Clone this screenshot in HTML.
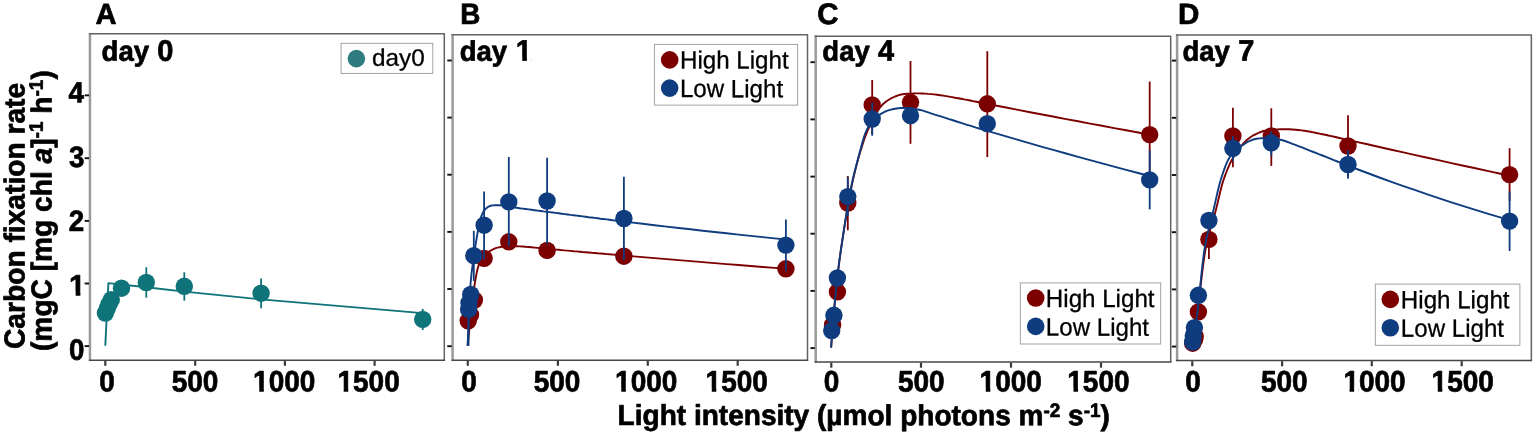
<!DOCTYPE html>
<html lang="en">
<head>
<meta charset="utf-8">
<title>Carbon fixation rate vs light intensity</title>
<style>
html,body{margin:0;padding:0;background:#fff;}
body{width:1535px;height:434px;overflow:hidden;font-family:"Liberation Sans",sans-serif;}
svg{display:block;}
</style>
</head>
<body>
<svg width="1535" height="434" viewBox="0 0 1535 434">
<rect width="1535" height="434" fill="#fff"/>
<g id="dataA">
<path d="M105.3,345.8 L108.4,283.1 L146.3,287.3 L184.3,291.6 L261.1,299.4 L422.7,313.1" fill="none" stroke="#0f7479" stroke-width="1.9" stroke-linejoin="round"/>
<line x1="146.3" y1="267.2" x2="146.3" y2="297.7" stroke="#0f7479" stroke-width="1.8"/>
<line x1="184.3" y1="272.3" x2="184.3" y2="300.7" stroke="#0f7479" stroke-width="1.8"/>
<line x1="261.1" y1="278.4" x2="261.1" y2="308.3" stroke="#0f7479" stroke-width="1.8"/>
<line x1="422.7" y1="308.8" x2="422.7" y2="330.0" stroke="#0f7479" stroke-width="1.8"/>
<circle cx="105.4" cy="313.1" r="8.7" fill="#0f7479"/>
<circle cx="107.2" cy="308.7" r="8.7" fill="#0f7479"/>
<circle cx="109.2" cy="303.9" r="8.7" fill="#0f7479"/>
<circle cx="111.3" cy="299.7" r="8.7" fill="#0f7479"/>
<circle cx="121.5" cy="288.2" r="8.7" fill="#0f7479"/>
<circle cx="146.3" cy="282.5" r="8.7" fill="#0f7479"/>
<circle cx="184.3" cy="286.3" r="8.7" fill="#0f7479"/>
<circle cx="261.1" cy="293.2" r="8.7" fill="#0f7479"/>
<circle cx="422.7" cy="319.4" r="8.7" fill="#0f7479"/>
</g>
<g id="dataB">
<path d="M467.6,345.7 L468.6,336.1 L469.6,326.8 L470.6,317.8 L471.6,309.1 L472.6,300.5 L473.6,292.1 L474.6,284.7 L475.6,278.7 L476.6,273.3 L477.6,268.7 L478.6,265.4 L479.6,262.9 L480.6,260.8 L481.6,259.0 L482.6,257.5 L483.6,256.3 L484.6,255.2 L485.6,254.2 L486.6,253.4 L487.6,252.6 L488.6,251.9 L489.6,251.2 L490.6,250.6 L491.6,250.1 L492.6,249.5 L493.6,249.0 L494.6,248.6 L495.6,248.2 L496.6,247.9 L497.6,247.6 L498.6,247.4 L499.6,247.2 L500.6,247.0 L501.6,246.8 L502.6,246.6 L503.6,246.4 L504.6,246.3 L505.6,246.2 L506.6,246.1 L507.6,246.0 L510.6,246.0 L513.6,246.1 L516.6,246.2 L519.6,246.4 L522.6,246.5 L525.6,246.8 L528.6,247.0 L531.6,247.3 L534.6,247.6 L537.6,247.9 L540.6,248.2 L543.6,248.5 L546.6,248.8 L549.6,249.0 L552.6,249.3 L555.6,249.6 L558.6,249.8 L561.6,250.1 L564.6,250.4 L567.6,250.6 L570.6,250.9 L573.6,251.2 L576.6,251.4 L579.6,251.7 L582.6,252.0 L585.6,252.2 L588.6,252.5 L591.6,252.8 L594.6,253.0 L597.6,253.3 L600.6,253.5 L603.6,253.8 L606.6,254.1 L609.6,254.3 L612.6,254.6 L615.6,254.8 L618.6,255.1 L630.6,256.1 L642.6,257.1 L654.6,258.1 L666.6,259.1 L678.6,260.1 L690.6,261.1 L702.6,262.1 L714.6,263.1 L726.6,264.1 L738.6,265.0 L750.6,266.0 L762.6,267.0 L774.6,267.9 L786.0,268.8" fill="none" stroke="#7c0000" stroke-width="1.9" stroke-linejoin="round"/>
<circle cx="468.2" cy="320.8" r="8.7" fill="#7c0000"/>
<circle cx="470.5" cy="315.0" r="8.7" fill="#7c0000"/>
<circle cx="474.4" cy="300.0" r="8.7" fill="#7c0000"/>
<circle cx="484.1" cy="258.4" r="8.7" fill="#7c0000"/>
<circle cx="508.8" cy="241.8" r="8.7" fill="#7c0000"/>
<circle cx="547.1" cy="250.4" r="8.7" fill="#7c0000"/>
<circle cx="623.9" cy="256.2" r="8.7" fill="#7c0000"/>
<circle cx="785.9" cy="268.8" r="8.7" fill="#7c0000"/>
<path d="M467.6,345.7 L468.6,320.0 L469.6,298.5 L470.6,283.0 L471.6,272.8 L472.6,265.1 L473.6,258.0 L474.6,251.0 L475.6,244.5 L476.6,238.5 L477.6,232.5 L478.6,226.6 L479.6,221.8 L480.6,218.4 L481.6,215.6 L482.6,213.2 L483.6,211.4 L484.6,210.0 L485.6,208.9 L486.6,208.0 L487.6,207.2 L488.6,206.7 L489.6,206.2 L490.6,205.8 L491.6,205.5 L492.6,205.4 L493.6,205.4 L494.6,205.3 L495.6,205.3 L496.6,205.3 L497.6,205.3 L498.6,205.3 L499.6,205.3 L500.6,205.3 L501.6,205.3 L502.6,205.4 L503.6,205.5 L504.6,205.6 L505.6,205.7 L506.6,205.9 L507.6,206.0 L510.6,206.6 L513.6,207.2 L516.6,207.7 L519.6,208.2 L522.6,208.6 L525.6,209.0 L528.6,209.4 L531.6,209.8 L534.6,210.2 L537.6,210.6 L540.6,211.0 L543.6,211.4 L546.6,211.7 L549.6,212.1 L552.6,212.5 L555.6,212.9 L558.6,213.3 L561.6,213.7 L564.6,214.1 L567.6,214.5 L570.6,214.9 L573.6,215.2 L576.6,215.6 L579.6,216.0 L582.6,216.4 L585.6,216.8 L588.6,217.2 L591.6,217.5 L594.6,217.9 L597.6,218.3 L600.6,218.7 L603.6,219.0 L606.6,219.4 L609.6,219.8 L612.6,220.2 L615.6,220.5 L618.6,220.9 L630.6,222.4 L642.6,223.8 L654.6,225.2 L666.6,226.6 L678.6,228.0 L690.6,229.3 L702.6,230.7 L714.6,232.0 L726.6,233.3 L738.6,234.6 L750.6,235.9 L762.6,237.1 L774.6,238.4 L786.0,239.5" fill="none" stroke="#0f3c7e" stroke-width="1.9" stroke-linejoin="round"/>
<line x1="468.6" y1="300.0" x2="468.6" y2="345.7" stroke="#0f3c7e" stroke-width="1.8"/>
<line x1="473.8" y1="230.8" x2="473.8" y2="281.0" stroke="#0f3c7e" stroke-width="1.8"/>
<line x1="484.1" y1="191.4" x2="484.1" y2="259.8" stroke="#0f3c7e" stroke-width="1.8"/>
<line x1="508.8" y1="157.0" x2="508.8" y2="246.2" stroke="#0f3c7e" stroke-width="1.8"/>
<line x1="547.1" y1="157.7" x2="547.1" y2="244.3" stroke="#0f3c7e" stroke-width="1.8"/>
<line x1="623.9" y1="176.8" x2="623.9" y2="260.0" stroke="#0f3c7e" stroke-width="1.8"/>
<line x1="785.9" y1="219.5" x2="785.9" y2="270.9" stroke="#0f3c7e" stroke-width="1.8"/>
<circle cx="468.6" cy="309.4" r="8.7" fill="#0f3c7e"/>
<circle cx="469.0" cy="303.0" r="8.7" fill="#0f3c7e"/>
<circle cx="470.7" cy="294.4" r="8.7" fill="#0f3c7e"/>
<circle cx="473.8" cy="255.7" r="8.7" fill="#0f3c7e"/>
<circle cx="484.1" cy="225.2" r="8.7" fill="#0f3c7e"/>
<circle cx="508.8" cy="201.9" r="8.7" fill="#0f3c7e"/>
<circle cx="547.1" cy="201.0" r="8.7" fill="#0f3c7e"/>
<circle cx="623.9" cy="218.5" r="8.7" fill="#0f3c7e"/>
<circle cx="785.9" cy="245.1" r="8.7" fill="#0f3c7e"/>
</g>
<g id="dataC">
<path d="M831.1,347.6 L832.1,334.5 L833.1,322.0 L834.1,310.2 L835.1,299.1 L836.1,288.8 L837.1,279.4 L838.1,270.8 L839.1,262.9 L840.1,255.5 L841.1,248.5 L842.1,241.9 L843.1,235.4 L844.1,228.9 L845.1,222.6 L846.1,216.4 L847.1,210.4 L848.1,204.6 L849.1,199.1 L850.1,193.7 L851.1,188.7 L852.1,183.9 L853.1,179.3 L854.1,175.0 L855.1,170.8 L856.1,166.8 L857.1,162.9 L858.1,159.3 L859.1,155.7 L860.1,152.3 L861.1,149.1 L862.1,145.9 L863.1,142.8 L864.1,139.8 L865.1,137.0 L866.1,134.4 L867.1,131.9 L868.1,129.5 L869.1,127.3 L870.1,125.1 L871.1,123.0 L874.1,117.0 L877.1,111.7 L880.1,107.3 L883.1,104.0 L886.1,101.5 L889.1,99.5 L892.1,97.8 L895.1,96.5 L898.1,95.4 L901.1,94.5 L904.1,94.0 L907.1,93.8 L910.1,93.6 L913.1,93.5 L916.1,93.4 L919.1,93.4 L922.1,93.5 L925.1,93.6 L928.1,93.9 L931.1,94.1 L934.1,94.4 L937.1,94.8 L940.1,95.2 L943.1,95.6 L946.1,96.1 L949.1,96.6 L952.1,97.1 L955.1,97.7 L958.1,98.2 L961.1,98.8 L964.1,99.4 L967.1,99.9 L970.1,100.5 L973.1,101.1 L976.1,101.7 L979.1,102.3 L982.1,102.9 L994.1,105.2 L1006.1,107.5 L1018.1,109.9 L1030.1,112.2 L1042.1,114.5 L1054.1,116.8 L1066.1,119.1 L1078.1,121.3 L1090.1,123.6 L1102.1,125.8 L1114.1,128.1 L1126.1,130.3 L1138.1,132.5 L1149.7,134.6" fill="none" stroke="#7c0000" stroke-width="1.9" stroke-linejoin="round"/>
<line x1="847.8" y1="176.0" x2="847.8" y2="230.3" stroke="#7c0000" stroke-width="1.8"/>
<line x1="872.2" y1="80.0" x2="872.2" y2="134.3" stroke="#7c0000" stroke-width="1.8"/>
<line x1="910.5" y1="61.0" x2="910.5" y2="143.8" stroke="#7c0000" stroke-width="1.8"/>
<line x1="987.3" y1="51.2" x2="987.3" y2="157.1" stroke="#7c0000" stroke-width="1.8"/>
<line x1="1149.7" y1="81.5" x2="1149.7" y2="187.7" stroke="#7c0000" stroke-width="1.8"/>
<circle cx="832.6" cy="325.0" r="8.7" fill="#7c0000"/>
<circle cx="837.4" cy="291.8" r="8.7" fill="#7c0000"/>
<circle cx="847.8" cy="203.0" r="8.7" fill="#7c0000"/>
<circle cx="872.2" cy="104.9" r="8.7" fill="#7c0000"/>
<circle cx="910.5" cy="102.3" r="8.7" fill="#7c0000"/>
<circle cx="987.3" cy="103.8" r="8.7" fill="#7c0000"/>
<circle cx="1149.7" cy="134.6" r="8.7" fill="#7c0000"/>
<path d="M831.1,347.6 L832.1,334.5 L833.1,322.0 L834.1,310.2 L835.1,299.1 L836.1,288.8 L837.1,279.4 L838.1,270.8 L839.1,262.9 L840.1,255.6 L841.1,248.6 L842.1,241.9 L843.1,235.3 L844.1,228.8 L845.1,222.2 L846.1,215.8 L847.1,209.6 L848.1,203.6 L849.1,197.8 L850.1,192.4 L851.1,187.2 L852.1,182.5 L853.1,178.0 L854.1,173.8 L855.1,169.8 L856.1,165.9 L857.1,162.2 L858.1,158.5 L859.1,154.8 L860.1,151.1 L861.1,147.3 L862.1,143.5 L863.1,139.9 L864.1,136.5 L865.1,133.7 L866.1,131.3 L867.1,129.2 L868.1,127.3 L869.1,125.6 L870.1,124.0 L871.1,122.6 L874.1,119.2 L877.1,116.6 L880.1,114.4 L883.1,112.6 L886.1,111.2 L889.1,110.2 L892.1,109.3 L895.1,108.7 L898.1,108.3 L901.1,108.0 L904.1,108.0 L907.1,108.2 L910.1,108.5 L913.1,108.8 L916.1,109.3 L919.1,109.7 L922.1,110.4 L925.1,111.3 L928.1,112.3 L931.1,113.4 L934.1,114.4 L937.1,115.3 L940.1,116.2 L943.1,117.2 L946.1,118.1 L949.1,119.1 L952.1,120.0 L955.1,121.0 L958.1,122.0 L961.1,122.9 L964.1,123.9 L967.1,124.8 L970.1,125.7 L973.1,126.6 L976.1,127.6 L979.1,128.5 L982.1,129.4 L994.1,132.9 L1006.1,136.4 L1018.1,139.9 L1030.1,143.4 L1042.1,146.8 L1054.1,150.2 L1066.1,153.5 L1078.1,156.8 L1090.1,160.1 L1102.1,163.4 L1114.1,166.6 L1126.1,169.8 L1138.1,173.0 L1149.7,176.0" fill="none" stroke="#0f3c7e" stroke-width="1.9" stroke-linejoin="round"/>
<line x1="847.8" y1="177.2" x2="847.8" y2="216.0" stroke="#0f3c7e" stroke-width="1.8"/>
<line x1="872.2" y1="102.3" x2="872.2" y2="135.7" stroke="#0f3c7e" stroke-width="1.8"/>
<line x1="1149.7" y1="150.4" x2="1149.7" y2="209.4" stroke="#0f3c7e" stroke-width="1.8"/>
<circle cx="831.7" cy="330.6" r="8.7" fill="#0f3c7e"/>
<circle cx="833.9" cy="315.3" r="8.7" fill="#0f3c7e"/>
<circle cx="837.4" cy="278.0" r="8.7" fill="#0f3c7e"/>
<circle cx="847.8" cy="196.6" r="8.7" fill="#0f3c7e"/>
<circle cx="872.2" cy="119.0" r="8.7" fill="#0f3c7e"/>
<circle cx="910.5" cy="115.7" r="8.7" fill="#0f3c7e"/>
<circle cx="987.3" cy="123.7" r="8.7" fill="#0f3c7e"/>
<circle cx="1149.7" cy="179.9" r="8.7" fill="#0f3c7e"/>
</g>
<g id="dataD">
<path d="M1192.4,346.5 L1193.4,340.0 L1194.4,333.5 L1195.4,326.7 L1196.4,319.8 L1197.4,312.5 L1198.4,304.6 L1199.4,296.3 L1200.4,287.8 L1201.4,279.3 L1202.4,271.0 L1203.4,263.2 L1204.4,256.0 L1205.4,249.8 L1206.4,244.5 L1207.4,240.0 L1208.4,236.0 L1209.4,232.2 L1210.4,228.8 L1211.4,225.5 L1212.4,222.2 L1213.4,218.9 L1214.4,215.5 L1215.4,211.8 L1216.4,207.9 L1217.4,203.7 L1218.4,199.5 L1219.4,195.2 L1220.4,191.1 L1221.4,187.2 L1222.4,183.5 L1223.4,180.3 L1224.4,177.4 L1225.4,174.6 L1226.4,172.0 L1227.4,169.5 L1228.4,167.1 L1229.4,164.9 L1230.4,162.7 L1231.4,160.8 L1232.4,158.9 L1235.4,153.8 L1238.4,149.5 L1241.4,145.7 L1244.4,142.4 L1247.4,139.5 L1250.4,137.2 L1253.4,135.3 L1256.4,133.8 L1259.4,132.5 L1262.4,131.3 L1265.4,130.6 L1268.4,130.1 L1271.4,129.8 L1274.4,129.5 L1277.4,129.4 L1280.4,129.3 L1283.4,129.2 L1286.4,129.2 L1289.4,129.3 L1292.4,129.5 L1295.4,129.7 L1298.4,130.0 L1301.4,130.4 L1304.4,130.8 L1307.4,131.3 L1310.4,131.8 L1313.4,132.4 L1316.4,133.0 L1319.4,133.6 L1322.4,134.2 L1325.4,134.8 L1328.4,135.5 L1331.4,136.1 L1334.4,136.8 L1337.4,137.5 L1340.4,138.2 L1343.4,138.9 L1355.4,141.6 L1367.4,144.3 L1379.4,147.0 L1391.4,149.7 L1403.4,152.4 L1415.4,155.1 L1427.4,157.8 L1439.4,160.4 L1451.4,163.1 L1463.4,165.7 L1475.4,168.3 L1487.4,170.9 L1499.4,173.5 L1509.5,175.7" fill="none" stroke="#7c0000" stroke-width="1.9" stroke-linejoin="round"/>
<line x1="1208.9" y1="222.0" x2="1208.9" y2="259.0" stroke="#7c0000" stroke-width="1.8"/>
<line x1="1232.9" y1="107.7" x2="1232.9" y2="167.3" stroke="#7c0000" stroke-width="1.8"/>
<line x1="1271.3" y1="108.3" x2="1271.3" y2="165.9" stroke="#7c0000" stroke-width="1.8"/>
<line x1="1348.0" y1="115.3" x2="1348.0" y2="176.0" stroke="#7c0000" stroke-width="1.8"/>
<line x1="1509.6" y1="148.2" x2="1509.6" y2="201.0" stroke="#7c0000" stroke-width="1.8"/>
<circle cx="1192.7" cy="343.2" r="8.7" fill="#7c0000"/>
<circle cx="1194.6" cy="339.5" r="8.7" fill="#7c0000"/>
<circle cx="1195.2" cy="336.5" r="8.7" fill="#7c0000"/>
<circle cx="1198.4" cy="311.9" r="8.7" fill="#7c0000"/>
<circle cx="1208.9" cy="239.4" r="8.7" fill="#7c0000"/>
<circle cx="1232.9" cy="136.0" r="8.7" fill="#7c0000"/>
<circle cx="1271.3" cy="136.0" r="8.7" fill="#7c0000"/>
<circle cx="1348.0" cy="146.0" r="8.7" fill="#7c0000"/>
<circle cx="1509.6" cy="174.6" r="8.7" fill="#7c0000"/>
<path d="M1192.4,346.5 L1193.4,340.3 L1194.4,333.8 L1195.4,327.0 L1196.4,319.9 L1197.4,312.1 L1198.4,303.3 L1199.4,293.9 L1200.4,284.2 L1201.4,274.6 L1202.4,265.4 L1203.4,257.0 L1204.4,249.7 L1205.4,243.8 L1206.4,238.7 L1207.4,234.2 L1208.4,230.0 L1209.4,226.1 L1210.4,222.3 L1211.4,218.6 L1212.4,214.7 L1213.4,210.5 L1214.4,206.1 L1215.4,201.6 L1216.4,197.1 L1217.4,192.7 L1218.4,188.5 L1219.4,184.5 L1220.4,181.0 L1221.4,177.8 L1222.4,174.7 L1223.4,171.7 L1224.4,168.9 L1225.4,166.2 L1226.4,163.7 L1227.4,161.4 L1228.4,159.4 L1229.4,157.7 L1230.4,156.3 L1231.4,155.1 L1232.4,153.9 L1235.4,150.8 L1238.4,148.3 L1241.4,146.1 L1244.4,143.9 L1247.4,142.0 L1250.4,140.6 L1253.4,139.5 L1256.4,138.8 L1259.4,138.4 L1262.4,138.2 L1265.4,138.2 L1268.4,138.3 L1271.4,138.4 L1274.4,138.7 L1277.4,139.2 L1280.4,139.8 L1283.4,140.5 L1286.4,141.5 L1289.4,142.6 L1292.4,143.8 L1295.4,144.9 L1298.4,146.1 L1301.4,147.2 L1304.4,148.4 L1307.4,149.6 L1310.4,150.8 L1313.4,152.0 L1316.4,153.2 L1319.4,154.4 L1322.4,155.5 L1325.4,156.7 L1328.4,157.9 L1331.4,159.1 L1334.4,160.3 L1337.4,161.5 L1340.4,162.7 L1343.4,163.9 L1355.4,168.5 L1367.4,173.0 L1379.4,177.5 L1391.4,181.8 L1403.4,186.1 L1415.4,190.2 L1427.4,194.3 L1439.4,198.3 L1451.4,202.3 L1463.4,206.1 L1475.4,209.9 L1487.4,213.6 L1499.4,217.2 L1509.5,220.2" fill="none" stroke="#0f3c7e" stroke-width="1.9" stroke-linejoin="round"/>
<line x1="1232.9" y1="136.0" x2="1232.9" y2="161.0" stroke="#0f3c7e" stroke-width="1.8"/>
<line x1="1271.3" y1="131.4" x2="1271.3" y2="156.3" stroke="#0f3c7e" stroke-width="1.8"/>
<line x1="1348.0" y1="150.2" x2="1348.0" y2="178.7" stroke="#0f3c7e" stroke-width="1.8"/>
<line x1="1509.6" y1="191.5" x2="1509.6" y2="251.0" stroke="#0f3c7e" stroke-width="1.8"/>
<circle cx="1192.7" cy="342.0" r="8.7" fill="#0f3c7e"/>
<circle cx="1193.3" cy="335.7" r="8.7" fill="#0f3c7e"/>
<circle cx="1194.4" cy="327.6" r="8.7" fill="#0f3c7e"/>
<circle cx="1198.4" cy="295.3" r="8.7" fill="#0f3c7e"/>
<circle cx="1208.9" cy="220.5" r="8.7" fill="#0f3c7e"/>
<circle cx="1232.9" cy="148.3" r="8.7" fill="#0f3c7e"/>
<circle cx="1271.3" cy="142.8" r="8.7" fill="#0f3c7e"/>
<circle cx="1348.0" cy="164.5" r="8.7" fill="#0f3c7e"/>
<circle cx="1509.6" cy="221.1" r="8.7" fill="#0f3c7e"/>
</g>
<g id="frameA">
<line x1="89.95" y1="33.15" x2="89.95" y2="360.90" stroke="#9a9a9a" stroke-width="2.5"/>
<path d="M88.95,33.85 L444.3,33.85 L444.3,360.2" fill="none" stroke="#626262" stroke-width="1.5" stroke-linejoin="round"/>
<path d="M445.05,360.2 L88.95,360.2" fill="none" stroke="#464646" stroke-width="1.5"/>
<line x1="84.65" y1="95.35" x2="89.05" y2="95.35" stroke="#111" stroke-width="1.9"/>
<line x1="84.65" y1="158.2" x2="89.05" y2="158.2" stroke="#111" stroke-width="1.9"/>
<line x1="84.65" y1="220.9" x2="89.05" y2="220.9" stroke="#111" stroke-width="1.9"/>
<line x1="84.65" y1="283.5" x2="89.05" y2="283.5" stroke="#111" stroke-width="1.9"/>
<line x1="84.65" y1="346.1" x2="89.05" y2="346.1" stroke="#111" stroke-width="1.9"/>
<line x1="105.3" y1="360.80" x2="105.3" y2="365.80" stroke="#3a3a3a" stroke-width="2.2"/>
<line x1="195.2" y1="360.80" x2="195.2" y2="365.80" stroke="#3a3a3a" stroke-width="2.2"/>
<line x1="284.9" y1="360.80" x2="284.9" y2="365.80" stroke="#3a3a3a" stroke-width="2.2"/>
<line x1="374.6" y1="360.80" x2="374.6" y2="365.80" stroke="#3a3a3a" stroke-width="2.2"/>
</g>
<g id="frameB">
<line x1="452.6" y1="34.00" x2="452.6" y2="360.90" stroke="#9a9a9a" stroke-width="2.5"/>
<path d="M451.60,34.7 L807.5,34.7 L807.5,360.2" fill="none" stroke="#626262" stroke-width="1.5" stroke-linejoin="round"/>
<path d="M808.25,360.2 L451.60,360.2" fill="none" stroke="#464646" stroke-width="1.5"/>
<line x1="447.30" y1="60.5" x2="451.70" y2="60.5" stroke="#111" stroke-width="1.9"/>
<line x1="447.30" y1="117.6" x2="451.70" y2="117.6" stroke="#111" stroke-width="1.9"/>
<line x1="447.30" y1="174.7" x2="451.70" y2="174.7" stroke="#111" stroke-width="1.9"/>
<line x1="447.30" y1="231.9" x2="451.70" y2="231.9" stroke="#111" stroke-width="1.9"/>
<line x1="447.30" y1="289.0" x2="451.70" y2="289.0" stroke="#111" stroke-width="1.9"/>
<line x1="447.30" y1="346.2" x2="451.70" y2="346.2" stroke="#111" stroke-width="1.9"/>
<line x1="467.8" y1="360.80" x2="467.8" y2="365.80" stroke="#3a3a3a" stroke-width="2.2"/>
<line x1="557.9" y1="360.80" x2="557.9" y2="365.80" stroke="#3a3a3a" stroke-width="2.2"/>
<line x1="647.8" y1="360.80" x2="647.8" y2="365.80" stroke="#3a3a3a" stroke-width="2.2"/>
<line x1="737.7" y1="360.80" x2="737.7" y2="365.80" stroke="#3a3a3a" stroke-width="2.2"/>
</g>
<g id="frameC">
<line x1="815.7" y1="35.55" x2="815.7" y2="362.80" stroke="#9a9a9a" stroke-width="2.5"/>
<path d="M814.70,36.25 L1170.7,36.25 L1170.7,362.1" fill="none" stroke="#626262" stroke-width="1.5" stroke-linejoin="round"/>
<path d="M1171.45,362.1 L814.70,362.1" fill="none" stroke="#464646" stroke-width="1.5"/>
<line x1="810.40" y1="62.2" x2="814.80" y2="62.2" stroke="#111" stroke-width="1.9"/>
<line x1="810.40" y1="119.4" x2="814.80" y2="119.4" stroke="#111" stroke-width="1.9"/>
<line x1="810.40" y1="176.6" x2="814.80" y2="176.6" stroke="#111" stroke-width="1.9"/>
<line x1="810.40" y1="233.7" x2="814.80" y2="233.7" stroke="#111" stroke-width="1.9"/>
<line x1="810.40" y1="290.9" x2="814.80" y2="290.9" stroke="#111" stroke-width="1.9"/>
<line x1="810.40" y1="348.1" x2="814.80" y2="348.1" stroke="#111" stroke-width="1.9"/>
<line x1="831.3" y1="362.70" x2="831.3" y2="367.70" stroke="#3a3a3a" stroke-width="2.2"/>
<line x1="921.0" y1="362.70" x2="921.0" y2="367.70" stroke="#3a3a3a" stroke-width="2.2"/>
<line x1="1011.0" y1="362.70" x2="1011.0" y2="367.70" stroke="#3a3a3a" stroke-width="2.2"/>
<line x1="1101.0" y1="362.70" x2="1101.0" y2="367.70" stroke="#3a3a3a" stroke-width="2.2"/>
</g>
<g id="frameD">
<line x1="1177.1" y1="34.30" x2="1177.1" y2="361.30" stroke="#9a9a9a" stroke-width="2.5"/>
<path d="M1176.10,35.0 L1531.35,35.0 L1531.35,360.6" fill="none" stroke="#626262" stroke-width="1.5" stroke-linejoin="round"/>
<path d="M1532.10,360.6 L1176.10,360.6" fill="none" stroke="#464646" stroke-width="1.5"/>
<line x1="1171.80" y1="60.6" x2="1176.20" y2="60.6" stroke="#111" stroke-width="1.9"/>
<line x1="1171.80" y1="117.8" x2="1176.20" y2="117.8" stroke="#111" stroke-width="1.9"/>
<line x1="1171.80" y1="175.0" x2="1176.20" y2="175.0" stroke="#111" stroke-width="1.9"/>
<line x1="1171.80" y1="232.2" x2="1176.20" y2="232.2" stroke="#111" stroke-width="1.9"/>
<line x1="1171.80" y1="289.4" x2="1176.20" y2="289.4" stroke="#111" stroke-width="1.9"/>
<line x1="1171.80" y1="346.55" x2="1176.20" y2="346.55" stroke="#111" stroke-width="1.9"/>
<line x1="1192.3" y1="361.20" x2="1192.3" y2="366.20" stroke="#3a3a3a" stroke-width="2.2"/>
<line x1="1282.1" y1="361.20" x2="1282.1" y2="366.20" stroke="#3a3a3a" stroke-width="2.2"/>
<line x1="1371.8" y1="361.20" x2="1371.8" y2="366.20" stroke="#3a3a3a" stroke-width="2.2"/>
<line x1="1461.7" y1="361.20" x2="1461.7" y2="366.20" stroke="#3a3a3a" stroke-width="2.2"/>
</g>
<g id="labels">
<text transform="translate(95.47,24.02) rotate(0.03) scale(0.9993,1)" font-size="29.2" font-family="Liberation Sans, sans-serif" font-weight="700" fill="#000" stroke="#000" stroke-width="0.7" stroke-linejoin="round" text-anchor="start">A</text>
<text transform="translate(460.17,24.02) rotate(0.03) scale(0.9512,1)" font-size="29.3" font-family="Liberation Sans, sans-serif" font-weight="700" fill="#000" stroke="#000" stroke-width="0.7" stroke-linejoin="round" text-anchor="start">B</text>
<text transform="translate(817.17,24.10) rotate(0.03) scale(0.9921,1)" font-size="29.7" font-family="Liberation Sans, sans-serif" font-weight="700" fill="#000" stroke="#000" stroke-width="0.7" stroke-linejoin="round" text-anchor="start">C</text>
<text transform="translate(1177.96,24.05) rotate(0.03) scale(1.0051,1)" font-size="29.4" font-family="Liberation Sans, sans-serif" font-weight="700" fill="#000" stroke="#000" stroke-width="0.7" stroke-linejoin="round" text-anchor="start">D</text>
<text transform="translate(101.55,60.65) rotate(0.03) scale(0.9787,1)" font-size="28.2" font-family="Liberation Sans, sans-serif" font-weight="700" fill="#000" stroke="#000" stroke-width="0.7" stroke-linejoin="round" text-anchor="start">day <tspan x="56.80" dy="0.1" font-size="29.7">0</tspan></text>
<text transform="translate(459.75,60.65) rotate(0.03) scale(0.9756,1)" font-size="28.2" font-family="Liberation Sans, sans-serif" font-weight="700" fill="#000" stroke="#000" stroke-width="0.7" stroke-linejoin="round" text-anchor="start">day <tspan x="57.49" dy="0.1" font-size="29.7">1</tspan></text>
<rect x="516.11" y="56.88" width="6.13" height="4.82" fill="#fff"/>
<rect x="526.94" y="56.88" width="4.85" height="4.82" fill="#fff"/>
<text transform="translate(822.35,60.65) rotate(0.03) scale(0.9758,1)" font-size="28.2" font-family="Liberation Sans, sans-serif" font-weight="700" fill="#000" stroke="#000" stroke-width="0.7" stroke-linejoin="round" text-anchor="start">day <tspan x="57.15" dy="0.1" font-size="29.7">4</tspan></text>
<text transform="translate(1182.55,60.65) rotate(0.03) scale(0.9745,1)" font-size="28.2" font-family="Liberation Sans, sans-serif" font-weight="700" fill="#000" stroke="#000" stroke-width="0.7" stroke-linejoin="round" text-anchor="start">day <tspan x="57.23" dy="0.1" font-size="29.7">7</tspan></text>
<text transform="translate(68.62,102.60) rotate(0.03) scale(0.9400,1)" font-size="29.5" font-family="Liberation Sans, sans-serif" font-weight="700" fill="#000" stroke="#000" stroke-width="0.7" stroke-linejoin="round" text-anchor="start">4</text>
<text transform="translate(69.08,166.90) rotate(0.03) scale(0.9400,1)" font-size="29.5" font-family="Liberation Sans, sans-serif" font-weight="700" fill="#000" stroke="#000" stroke-width="0.7" stroke-linejoin="round" text-anchor="start">3</text>
<text transform="translate(68.72,230.90) rotate(0.03) scale(0.9400,1)" font-size="29.5" font-family="Liberation Sans, sans-serif" font-weight="700" fill="#000" stroke="#000" stroke-width="0.7" stroke-linejoin="round" text-anchor="start">2</text>
<text transform="translate(69.11,295.45) rotate(0.03)" font-size="29.5" font-family="Liberation Sans, sans-serif" font-weight="700" fill="#000" stroke="#000" stroke-width="0.7" stroke-linejoin="round" text-anchor="start">1</text>
<rect x="69.41" y="291.60" width="6.22" height="4.80" fill="#fff"/>
<rect x="80.40" y="291.60" width="4.93" height="4.80" fill="#fff"/>
<text transform="translate(68.90,359.75) rotate(0.03) scale(0.9400,1)" font-size="29.5" font-family="Liberation Sans, sans-serif" font-weight="700" fill="#000" stroke="#000" stroke-width="0.7" stroke-linejoin="round" text-anchor="start">0</text>
<text transform="translate(99.24,391.60) rotate(0.03) scale(0.9420,1)" font-size="29.7" font-family="Liberation Sans, sans-serif" font-weight="700" fill="#000" stroke="#000" stroke-width="0.7" stroke-linejoin="round" text-anchor="start">0</text>
<text transform="translate(171.76,391.60) rotate(0.03) scale(0.9420,1)" font-size="29.7" font-family="Liberation Sans, sans-serif" font-weight="700" fill="#000" stroke="#000" stroke-width="0.7" stroke-linejoin="round" text-anchor="start">500</text>
<text transform="translate(253.10,391.60) rotate(0.03) scale(0.9420,1)" font-size="29.7" font-family="Liberation Sans, sans-serif" font-weight="700" fill="#000" stroke="#000" stroke-width="0.7" stroke-linejoin="round" text-anchor="start">1000</text>
<rect x="253.31" y="387.73" width="5.96" height="4.82" fill="#fff"/>
<rect x="263.83" y="387.73" width="4.69" height="4.82" fill="#fff"/>
<text transform="translate(337.50,391.60) rotate(0.03) scale(0.9420,1)" font-size="29.7" font-family="Liberation Sans, sans-serif" font-weight="700" fill="#000" stroke="#000" stroke-width="0.7" stroke-linejoin="round" text-anchor="start">1500</text>
<rect x="337.71" y="387.73" width="5.96" height="4.82" fill="#fff"/>
<rect x="348.23" y="387.73" width="4.69" height="4.82" fill="#fff"/>
<text transform="translate(461.24,391.60) rotate(0.03) scale(0.9420,1)" font-size="29.7" font-family="Liberation Sans, sans-serif" font-weight="700" fill="#000" stroke="#000" stroke-width="0.7" stroke-linejoin="round" text-anchor="start">0</text>
<text transform="translate(533.76,391.60) rotate(0.03) scale(0.9420,1)" font-size="29.7" font-family="Liberation Sans, sans-serif" font-weight="700" fill="#000" stroke="#000" stroke-width="0.7" stroke-linejoin="round" text-anchor="start">500</text>
<text transform="translate(615.10,391.60) rotate(0.03) scale(0.9420,1)" font-size="29.7" font-family="Liberation Sans, sans-serif" font-weight="700" fill="#000" stroke="#000" stroke-width="0.7" stroke-linejoin="round" text-anchor="start">1000</text>
<rect x="615.31" y="387.73" width="5.96" height="4.82" fill="#fff"/>
<rect x="625.83" y="387.73" width="4.69" height="4.82" fill="#fff"/>
<text transform="translate(705.60,391.60) rotate(0.03) scale(0.9420,1)" font-size="29.7" font-family="Liberation Sans, sans-serif" font-weight="700" fill="#000" stroke="#000" stroke-width="0.7" stroke-linejoin="round" text-anchor="start">1500</text>
<rect x="705.81" y="387.73" width="5.96" height="4.82" fill="#fff"/>
<rect x="716.33" y="387.73" width="4.69" height="4.82" fill="#fff"/>
<text transform="translate(823.84,391.60) rotate(0.03) scale(0.9420,1)" font-size="29.7" font-family="Liberation Sans, sans-serif" font-weight="700" fill="#000" stroke="#000" stroke-width="0.7" stroke-linejoin="round" text-anchor="start">0</text>
<text transform="translate(897.96,391.60) rotate(0.03) scale(0.9420,1)" font-size="29.7" font-family="Liberation Sans, sans-serif" font-weight="700" fill="#000" stroke="#000" stroke-width="0.7" stroke-linejoin="round" text-anchor="start">500</text>
<text transform="translate(979.60,391.60) rotate(0.03) scale(0.9420,1)" font-size="29.7" font-family="Liberation Sans, sans-serif" font-weight="700" fill="#000" stroke="#000" stroke-width="0.7" stroke-linejoin="round" text-anchor="start">1000</text>
<rect x="979.81" y="387.73" width="5.96" height="4.82" fill="#fff"/>
<rect x="990.33" y="387.73" width="4.69" height="4.82" fill="#fff"/>
<text transform="translate(1067.30,391.60) rotate(0.03) scale(0.9420,1)" font-size="29.7" font-family="Liberation Sans, sans-serif" font-weight="700" fill="#000" stroke="#000" stroke-width="0.7" stroke-linejoin="round" text-anchor="start">1500</text>
<rect x="1067.51" y="387.73" width="5.96" height="4.82" fill="#fff"/>
<rect x="1078.03" y="387.73" width="4.69" height="4.82" fill="#fff"/>
<text transform="translate(1185.24,391.60) rotate(0.03) scale(0.9420,1)" font-size="29.7" font-family="Liberation Sans, sans-serif" font-weight="700" fill="#000" stroke="#000" stroke-width="0.7" stroke-linejoin="round" text-anchor="start">0</text>
<text transform="translate(1260.91,391.60) rotate(0.03) scale(0.9420,1)" font-size="29.7" font-family="Liberation Sans, sans-serif" font-weight="700" fill="#000" stroke="#000" stroke-width="0.7" stroke-linejoin="round" text-anchor="start">500</text>
<text transform="translate(1343.40,391.60) rotate(0.03) scale(0.9420,1)" font-size="29.7" font-family="Liberation Sans, sans-serif" font-weight="700" fill="#000" stroke="#000" stroke-width="0.7" stroke-linejoin="round" text-anchor="start">1000</text>
<rect x="1343.61" y="387.73" width="5.96" height="4.82" fill="#fff"/>
<rect x="1354.13" y="387.73" width="4.69" height="4.82" fill="#fff"/>
<text transform="translate(1431.60,391.60) rotate(0.03) scale(0.9420,1)" font-size="29.7" font-family="Liberation Sans, sans-serif" font-weight="700" fill="#000" stroke="#000" stroke-width="0.7" stroke-linejoin="round" text-anchor="start">1500</text>
<rect x="1431.81" y="387.73" width="5.96" height="4.82" fill="#fff"/>
<rect x="1442.33" y="387.73" width="4.69" height="4.82" fill="#fff"/>
<text transform="translate(617.60,425.00) rotate(0.03) scale(0.9707,1)" font-size="28.9" font-family="Liberation Sans, sans-serif" font-weight="700" fill="#000" stroke="#000" stroke-width="0.7" stroke-linejoin="round" text-anchor="start">Light intensity (µmol photons m<tspan font-size="19.5" dy="-8.2">-2</tspan><tspan dy="8.2"> s</tspan><tspan font-size="19.5" dy="-8.2">-1</tspan><tspan dy="8.2">)</tspan></text>
<text transform="translate(24.40,349.00) rotate(-89.97) scale(0.9756,1)" font-size="28.9" font-family="Liberation Sans, sans-serif" font-weight="700" fill="#000" stroke="#000" stroke-width="0.7" stroke-linejoin="round" text-anchor="start">Carbon fixation rate</text>
<text transform="translate(51.50,351.00) rotate(-89.97) scale(0.9740,1)" font-size="28.9" font-family="Liberation Sans, sans-serif" font-weight="700" fill="#000" stroke="#000" stroke-width="0.7" stroke-linejoin="round" text-anchor="start">(mgC [mg chl <tspan font-style="italic">a</tspan>]<tspan font-size="19.5" dy="-8.8">-1</tspan><tspan dy="8.8"> h</tspan><tspan font-size="19.5" dy="-8.8">-1</tspan><tspan dy="8.8">)</tspan></text>
</g>
<g id="legends">
<rect x="341.1" y="43.3" width="91.7" height="30.1" fill="#fff" stroke="#9a9a9a" stroke-width="0.9"/>
<circle cx="356.4" cy="58.6" r="8.8" fill="#2e7b80"/>
<text transform="translate(372.02,65.75) rotate(0.03) scale(1.0225,1)" font-size="23.8" font-family="Liberation Sans, sans-serif" font-weight="400" fill="#000" stroke="#000" stroke-width="0.3" stroke-linejoin="round" text-anchor="start">day0</text>
<rect x="654.4" y="44.4" width="143.2" height="60.7" fill="#fff" stroke="#9a9a9a" stroke-width="0.9"/>
<circle cx="669.7" cy="59.9" r="8.8" fill="#7c0000"/>
<text transform="translate(679.96,68.50) rotate(0.03) scale(0.9654,1)" font-size="25.0" font-family="Liberation Sans, sans-serif" font-weight="400" fill="#000" stroke="#000" stroke-width="0.3" stroke-linejoin="round" text-anchor="start">High Light</text>
<circle cx="669.7" cy="88.1" r="8.8" fill="#0f3c7e"/>
<text transform="translate(679.96,97.10) rotate(0.03) scale(0.9642,1)" font-size="25.0" font-family="Liberation Sans, sans-serif" font-weight="400" fill="#000" stroke="#000" stroke-width="0.3" stroke-linejoin="round" text-anchor="start">Low Light</text>
<rect x="1020.3" y="282.9" width="140.4" height="61.1" fill="#fff" stroke="#9a9a9a" stroke-width="0.9"/>
<circle cx="1035.7" cy="298.0" r="8.8" fill="#7c0000"/>
<text transform="translate(1045.86,306.90) rotate(0.03) scale(0.9654,1)" font-size="25.0" font-family="Liberation Sans, sans-serif" font-weight="400" fill="#000" stroke="#000" stroke-width="0.3" stroke-linejoin="round" text-anchor="start">High Light</text>
<circle cx="1035.7" cy="326.4" r="8.8" fill="#0f3c7e"/>
<text transform="translate(1045.86,335.60) rotate(0.03) scale(0.9642,1)" font-size="25.0" font-family="Liberation Sans, sans-serif" font-weight="400" fill="#000" stroke="#000" stroke-width="0.3" stroke-linejoin="round" text-anchor="start">Low Light</text>
<rect x="1375.3" y="284.1" width="144.6" height="61.2" fill="#fff" stroke="#9a9a9a" stroke-width="0.9"/>
<circle cx="1390.3" cy="299.4" r="8.8" fill="#7c0000"/>
<text transform="translate(1400.86,308.15) rotate(0.03) scale(0.9654,1)" font-size="25.0" font-family="Liberation Sans, sans-serif" font-weight="400" fill="#000" stroke="#000" stroke-width="0.3" stroke-linejoin="round" text-anchor="start">High Light</text>
<circle cx="1390.3" cy="327.7" r="8.8" fill="#0f3c7e"/>
<text transform="translate(1400.86,336.80) rotate(0.03) scale(0.9642,1)" font-size="25.0" font-family="Liberation Sans, sans-serif" font-weight="400" fill="#000" stroke="#000" stroke-width="0.3" stroke-linejoin="round" text-anchor="start">Low Light</text>
</g>
</svg>
</body>
</html>
